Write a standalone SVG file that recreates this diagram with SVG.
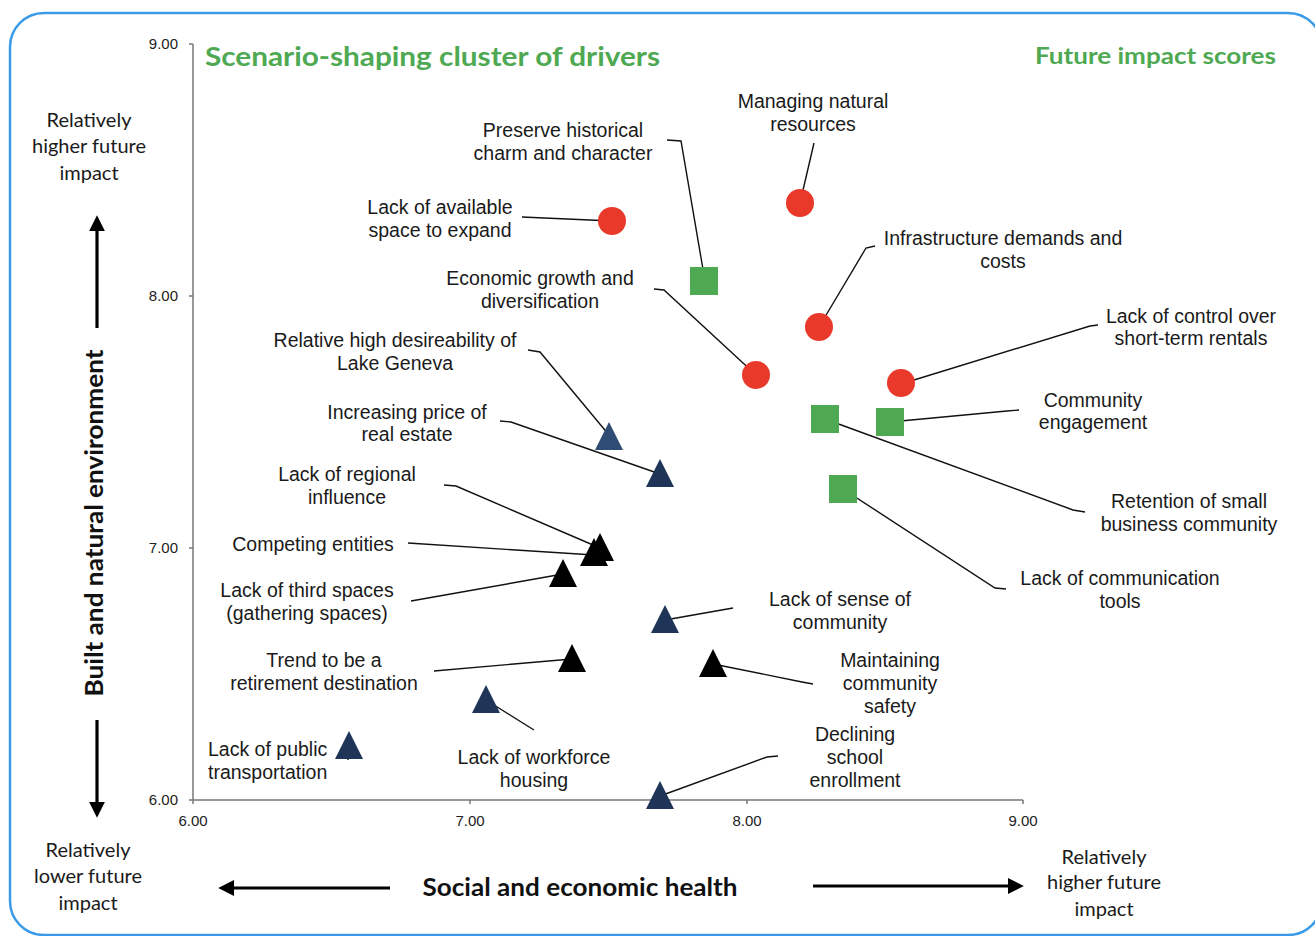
<svg xmlns="http://www.w3.org/2000/svg" width="1315" height="936" viewBox="0 0 1315 936">
<style>
.lbl{font-family:"Liberation Sans",Arial,sans-serif;font-size:19.5px;fill:#1a1a1a;text-anchor:middle}
.tick{font-family:"Liberation Sans",Arial,sans-serif;font-size:15px;fill:#222}
.corner{font-family:Lato,"Open Sans",sans-serif;font-size:20px;fill:#1a1a1a;text-anchor:middle}
.head{font-family:Lato,"Open Sans",sans-serif;font-weight:bold;fill:#4ea952}
.axt{font-family:Lato,"Open Sans",sans-serif;font-weight:bold;font-size:24px;fill:#111}
.lead{fill:none;stroke:#111;stroke-width:1.4}
.red{fill:#e8392b}
.grn{fill:#4ea952}
.navy{fill:#1f3557}
.blue{fill:#2f4c74}
.blk{fill:#000}
.big{stroke:#000;stroke-width:3.2;fill:none}
</style>
<defs>
<marker id="ah" markerWidth="5" markerHeight="5" refX="1" refY="2.5" orient="auto" markerUnits="strokeWidth">
<path d="M0,0 L5,2.5 L0,5 Z" fill="#000"/>
</marker>
<path id="tri" d="M0,-15 L14,13 L-14,13 Z"/>
</defs>
<rect x="10" y="13" width="1312" height="922" rx="34" fill="#fff" stroke="#3b9be8" stroke-width="2.5"/>

<!-- headings -->
<text class="head" x="205" y="66" font-size="26" textLength="455" lengthAdjust="spacingAndGlyphs">Scenario-shaping cluster of drivers</text>
<text class="head" x="1035" y="64" font-size="22" textLength="241" lengthAdjust="spacingAndGlyphs">Future impact scores</text>

<!-- axes -->
<g id="axes" stroke="#777" stroke-width="1.5" fill="none">
<line x1="193" y1="44" x2="193" y2="800"/>
<line x1="193" y1="800" x2="1023" y2="800"/>
<line x1="189" y1="44" x2="193" y2="44"/>
<line x1="189" y1="296" x2="193" y2="296"/>
<line x1="189" y1="548" x2="193" y2="548"/>
<line x1="189" y1="800" x2="193" y2="800"/>
<line x1="193" y1="800" x2="193" y2="804"/>
<line x1="470" y1="800" x2="470" y2="804"/>
<line x1="747" y1="800" x2="747" y2="804"/>
<line x1="1023" y1="800" x2="1023" y2="804"/>
</g>
<g id="ticklabels">
<text class="tick" x="178" y="49" text-anchor="end">9.00</text>
<text class="tick" x="178" y="301" text-anchor="end">8.00</text>
<text class="tick" x="178" y="553" text-anchor="end">7.00</text>
<text class="tick" x="178" y="805" text-anchor="end">6.00</text>
<text class="tick" x="193" y="826" text-anchor="middle">6.00</text>
<text class="tick" x="470" y="826" text-anchor="middle">7.00</text>
<text class="tick" x="747" y="826" text-anchor="middle">8.00</text>
<text class="tick" x="1023" y="826" text-anchor="middle">9.00</text>
</g>

<!-- axis titles and arrows -->
<text class="axt" x="0" y="0" transform="translate(103,523) rotate(-90)" text-anchor="middle" textLength="347" lengthAdjust="spacingAndGlyphs">Built and natural environment</text>
<text class="axt" x="580" y="896" text-anchor="middle" textLength="315" lengthAdjust="spacingAndGlyphs">Social and economic health</text>
<g id="bigarrows">
<line class="big" x1="97" y1="328" x2="97" y2="228" marker-end="url(#ah)"/>
<line class="big" x1="97" y1="720" x2="97" y2="805" marker-end="url(#ah)"/>
<line class="big" x1="390" y1="888" x2="231" y2="888" marker-end="url(#ah)"/>
<line class="big" x1="813" y1="886" x2="1011" y2="886" marker-end="url(#ah)"/>
</g>
<text class="corner"><tspan x="89" y="127">Relatively</tspan><tspan x="89" y="153">higher future</tspan><tspan x="89" y="180">impact</tspan></text>
<text class="corner"><tspan x="88" y="857">Relatively</tspan><tspan x="88" y="883">lower future</tspan><tspan x="88" y="910">impact</tspan></text>
<text class="corner"><tspan x="1104" y="864">Relatively</tspan><tspan x="1104" y="889">higher future</tspan><tspan x="1104" y="916">impact</tspan></text>

<!-- connectors -->
<g id="connectors">
<polyline class="lead" points="814,143 800,203"/>
<polyline class="lead" points="667,140 681,141 705,281"/>
<polyline class="lead" points="522,217 612,221"/>
<polyline class="lead" points="875,246 866,248 819,327"/>
<polyline class="lead" points="654,289 664,290 756,375"/>
<polyline class="lead" points="1098,325 1090,326 901,384"/>
<polyline class="lead" points="528,350 540,352 609,435"/>
<polyline class="lead" points="500,421 511,422 660,474"/>
<polyline class="lead" points="1019,410 1007,411 890,422"/>
<polyline class="lead" points="825,419 1073,510 1085,512"/>
<polyline class="lead" points="444,485 456,486 600,548"/>
<polyline class="lead" points="408,543 594,555"/>
<polyline class="lead" points="843,489 995,588 1006,589"/>
<polyline class="lead" points="411,601 563,574"/>
<polyline class="lead" points="733,608 665,620"/>
<polyline class="lead" points="434,671 572,659"/>
<polyline class="lead" points="713,664 802,682 813,684"/>
<polyline class="lead" points="486,700 534,730"/>
<polyline class="lead" points="348,744 348,760"/>
<polyline class="lead" points="778,756 767,757 660,796"/>
</g>

<!-- nodes -->
<g id="n-managing"><circle class="red" cx="800" cy="203" r="14"/><text class="lbl"><tspan x="813" y="108">Managing natural</tspan><tspan x="813" y="131">resources</tspan></text></g>
<g id="n-preserve"><rect class="grn" x="690" y="267" width="28" height="28"/><text class="lbl"><tspan x="563" y="137">Preserve historical</tspan><tspan x="563" y="160">charm and character</tspan></text></g>
<g id="n-space"><circle class="red" cx="612" cy="221" r="14"/><text class="lbl"><tspan x="440" y="214">Lack of available</tspan><tspan x="440" y="237">space to expand</tspan></text></g>
<g id="n-infra"><circle class="red" cx="819" cy="327" r="14"/><text class="lbl"><tspan x="1003" y="245">Infrastructure demands and</tspan><tspan x="1003" y="268">costs</tspan></text></g>
<g id="n-econ"><circle class="red" cx="756" cy="375" r="14"/><text class="lbl"><tspan x="540" y="285">Economic growth and</tspan><tspan x="540" y="308">diversification</tspan></text></g>
<g id="n-control"><circle class="red" cx="901" cy="383" r="14"/><text class="lbl"><tspan x="1191" y="323">Lack of control over</tspan><tspan x="1191" y="345">short-term rentals</tspan></text></g>
<g id="n-geneva"><use href="#tri" class="blue" x="609" y="437"/><text class="lbl"><tspan x="395" y="347">Relative high desireability of</tspan><tspan x="395" y="370">Lake Geneva</tspan></text></g>
<g id="n-engage"><rect class="grn" x="876" y="408" width="28" height="28"/><text class="lbl"><tspan x="1093" y="407">Community</tspan><tspan x="1093" y="429">engagement</tspan></text></g>
<g id="n-retention"><rect class="grn" x="811" y="405" width="28" height="28"/><text class="lbl"><tspan x="1189" y="508">Retention of small</tspan><tspan x="1189" y="531">business community</tspan></text></g>
<g id="n-price"><use href="#tri" class="navy" x="660" y="474"/><text class="lbl"><tspan x="407" y="419">Increasing price of</tspan><tspan x="407" y="441">real estate</tspan></text></g>
<g id="n-comm-tools"><rect class="grn" x="829" y="475" width="28" height="28"/><text class="lbl"><tspan x="1120" y="585">Lack of communication</tspan><tspan x="1120" y="608">tools</tspan></text></g>
<g id="n-regional"><use href="#tri" class="blk" x="600" y="548"/><text class="lbl"><tspan x="347" y="481">Lack of regional</tspan><tspan x="347" y="504">influence</tspan></text></g>
<g id="n-competing"><use href="#tri" class="blk" x="594" y="553"/><text class="lbl" x="313" y="551">Competing entities</text></g>
<g id="n-third"><use href="#tri" class="blk" x="563" y="574"/><text class="lbl"><tspan x="307" y="597">Lack of third spaces</tspan><tspan x="307" y="620">(gathering spaces)</tspan></text></g>
<g id="n-sense"><use href="#tri" class="navy" x="665" y="620"/><text class="lbl"><tspan x="840" y="606">Lack of sense of</tspan><tspan x="840" y="629">community</tspan></text></g>
<g id="n-retire"><use href="#tri" class="blk" x="572" y="659"/><text class="lbl"><tspan x="324" y="667">Trend to be a</tspan><tspan x="324" y="690">retirement destination</tspan></text></g>
<g id="n-safety"><use href="#tri" class="blk" x="713" y="664"/><text class="lbl"><tspan x="890" y="667">Maintaining</tspan><tspan x="890" y="690">community</tspan><tspan x="890" y="713">safety</tspan></text></g>
<g id="n-workforce"><use href="#tri" class="navy" x="486" y="700"/><text class="lbl"><tspan x="534" y="764">Lack of workforce</tspan><tspan x="534" y="787">housing</tspan></text></g>
<g id="n-transport"><use href="#tri" class="navy" x="349" y="746"/><text class="lbl" text-anchor="start" style="text-anchor:start"><tspan x="208" y="756">Lack of public</tspan><tspan x="208" y="779">transportation</tspan></text></g>
<g id="n-school"><use href="#tri" class="navy" x="660" y="796"/><text class="lbl"><tspan x="855" y="741">Declining</tspan><tspan x="855" y="764">school</tspan><tspan x="855" y="787">enrollment</tspan></text></g>
</svg>
